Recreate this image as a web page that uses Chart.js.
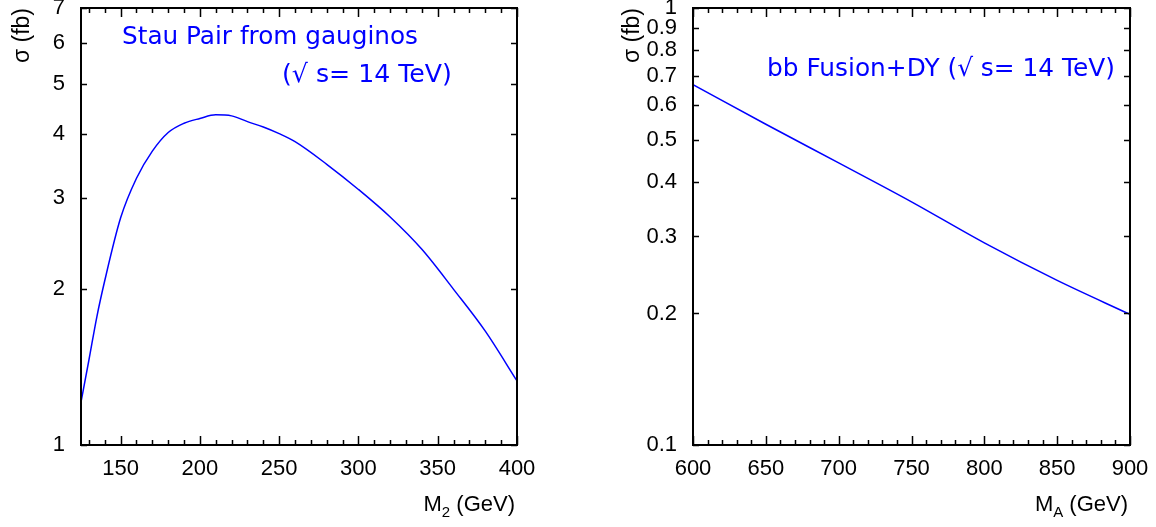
<!DOCTYPE html>
<html>
<head>
<meta charset="utf-8">
<script src="https://cdn.jsdelivr.net/npm/chart.js@4.4.1/dist/chart.umd.min.js"></script>
<style>
  html, body { margin: 0; padding: 0; background: #fff; }
  #wrap { position: relative; width: 1156px; height: 527px; }
  canvas { position: absolute; top: 0; }
  #stau-chart { left: 0; }
  #bbf-chart { left: 578px; }
</style>
</head>
<body>
<div id="wrap">
  <canvas id="stau-chart" width="578" height="527"></canvas>
  <canvas id="bbf-chart" width="578" height="527"></canvas>
</div>
<script>
// left panel: stau pair production from gauginos vs M2
const stauMass = [125, 130, 135, 140, 150, 160, 170, 180, 190, 200, 210, 220, 230, 240, 250, 260, 280, 300, 320, 340, 360, 380, 400];
const stauXsec = [1.21, 1.46, 1.77, 2.08, 2.75, 3.28, 3.70, 4.02, 4.19, 4.28, 4.35, 4.33, 4.22, 4.12, 4.00, 3.86, 3.49, 3.12, 2.76, 2.39, 2.00, 1.66, 1.33];

// right panel: bb fusion + DY vs MA
const massA = [600, 650, 700, 750, 800, 850, 900];
const bbXsec = [0.668, 0.542, 0.442, 0.360, 0.290, 0.238, 0.199];

// tick marks (labels only on multiples of 50 for x)
const stauTicksX = [130, 140, 150, 160, 170, 180, 190, 200, 210, 220, 230, 240, 250, 260, 270, 280, 290, 300, 310, 320, 330, 340, 350, 360, 370, 380, 390, 400];
const stauTicksY = [1, 2, 3, 4, 5, 6, 7];
const bbTicksX = [600, 610, 620, 630, 640, 650, 660, 670, 680, 690, 700, 710, 720, 730, 740, 750, 760, 770, 780, 790, 800, 810, 820, 830, 840, 850, 860, 870, 880, 890, 900];
const bbTicksY = [0.1, 0.2, 0.3, 0.4, 0.5, 0.6, 0.7, 0.8, 0.9, 1];

const FONT = 'Liberation Sans';
Chart.defaults.color = '#000';
Chart.defaults.font.family = FONT;

// gnuplot style frame with inward ticks on all four sides
const frameTicks = {
  id: 'frameTicks',
  afterDraw(chart) {
    const { ctx, chartArea: a, scales: { x, y } } = chart;
    ctx.save();
    ctx.strokeStyle = '#000';
    ctx.lineWidth = 1.5;
    ctx.beginPath();
    x.ticks.forEach(t => {
      const px = Math.round(x.getPixelForValue(t.value)) + 0.5;
      const len = t.value % 50 === 0 ? 9 : 5;
      ctx.moveTo(px, a.bottom); ctx.lineTo(px, a.bottom - len);
      ctx.moveTo(px, a.top); ctx.lineTo(px, a.top + len);
    });
    y.ticks.forEach(t => {
      const py = Math.round(y.getPixelForValue(t.value)) + 0.5;
      ctx.moveTo(a.left, py); ctx.lineTo(a.left + 6, py);
      ctx.moveTo(a.right, py); ctx.lineTo(a.right - 6, py);
    });
    ctx.stroke();
    ctx.lineWidth = 2;
    ctx.strokeRect(a.left, a.top, a.right - a.left, a.bottom - a.top);
    ctx.restore();
  }
};

// x axis title with a subscript, and the blue annotation text
const panelText = {
  id: 'panelText',
  afterDraw(chart, args, opts) {
    const { ctx, chartArea: a } = chart;
    ctx.save();
    ctx.fillStyle = '#000';
    ctx.textBaseline = 'alphabetic';
    const big = '22px "' + FONT + '"', small = '15px "' + FONT + '"';
    ctx.font = big;
    const wMain = ctx.measureText(opts.main).width;
    const wRest = ctx.measureText(opts.rest).width;
    ctx.font = small;
    const wSub = ctx.measureText(opts.sub).width;
    let xx = a.right - 2 - (wMain + wSub + wRest);
    const base = 511;
    ctx.font = big; ctx.fillText(opts.main, xx, base); xx += wMain;
    ctx.font = small; ctx.fillText(opts.sub, xx, base + 6); xx += wSub;
    ctx.font = big; ctx.fillText(opts.rest, xx, base);

    ctx.fillStyle = '#0000ff';
    opts.notes.forEach(n => {
      ctx.font = '22px "DejaVu Sans"';
      const w = ctx.measureText(n.text).width;
      const size = 22 * n.width / w;
      ctx.font = size.toFixed(2) + 'px "DejaVu Sans"';
      ctx.fillText(n.text, n.x, n.y);
    });
    ctx.restore();
  }
};

function makeScales(xMin, xMax, xTicks, yMin, yMax, yTicks, yAxisWidth, titlePad) {
  return {
    x: {
      type: 'linear', min: xMin, max: xMax,
      grid: { display: false, drawTicks: false },
      border: { display: false },
      afterBuildTicks: s => { s.ticks = xTicks.map(v => ({ value: v })); },
      afterFit: s => { s.height = 82; s.paddingLeft = 0; s.paddingRight = 0; },
      ticks: {
        autoSkip: false, maxRotation: 0, padding: 11,
        font: { size: 22 },
        callback: v => (v % 50 === 0 ? String(v) : '')
      }
    },
    y: {
      type: 'logarithmic', min: yMin, max: yMax,
      grid: { display: false, drawTicks: false },
      border: { display: false },
      afterBuildTicks: s => { s.ticks = yTicks.map(v => ({ value: v })); },
      afterFit: s => { s.width = yAxisWidth; s.paddingTop = 0; s.paddingBottom = 0; },
      ticks: {
        autoSkip: false, padding: 16,
        font: { size: 22 },
        callback: v => String(v)
      },
      title: {
        display: true, text: 'σ (fb)', align: 'end',
        font: { size: 23 },
        padding: { top: titlePad, bottom: 0 }
      }
    }
  };
}

function lineDataset(xs, ys) {
  return {
    data: xs.map((m, i) => ({ x: m, y: ys[i] })),
    borderColor: '#0000ff',
    borderWidth: 1.5,
    pointRadius: 0,
    fill: false,
    cubicInterpolationMode: 'monotone'
  };
}

new Chart(document.getElementById('stau-chart'), {
  type: 'line',
  data: { datasets: [lineDataset(stauMass, stauXsec)] },
  options: {
    responsive: false,
    animation: false,
    layout: { padding: { left: 0, right: 61, top: 8, bottom: 0 } },
    plugins: {
      legend: { display: false },
      tooltip: { enabled: false },
      panelText: {
        main: 'M', sub: '2', rest: ' (GeV)',
        notes: [
          { text: 'Stau Pair from gauginos', x: 122, y: 44, width: 296 },
          { text: '(√ s= 14 TeV)', x: 282, y: 82, width: 170 }
        ]
      }
    },
    scales: makeScales(125, 400, stauTicksX, 1, 7, stauTicksY, 81, 9)
  },
  plugins: [frameTicks, panelText]
});

new Chart(document.getElementById('bbf-chart'), {
  type: 'line',
  data: { datasets: [lineDataset(massA, bbXsec)] },
  options: {
    responsive: false,
    animation: false,
    layout: { padding: { left: 0, right: 26, top: 8, bottom: 0 } },
    plugins: {
      legend: { display: false },
      tooltip: { enabled: false },
      panelText: {
        main: 'M', sub: 'A', rest: ' (GeV)',
        notes: [
          { text: 'bb Fusion+DY (√ s= 14 TeV)', x: 189, y: 76, width: 348 }
        ]
      }
    },
    scales: makeScales(600, 900, bbTicksX, 0.1, 1, bbTicksY, 115, 41)
  },
  plugins: [frameTicks, panelText]
});
</script>
</body>
</html>
